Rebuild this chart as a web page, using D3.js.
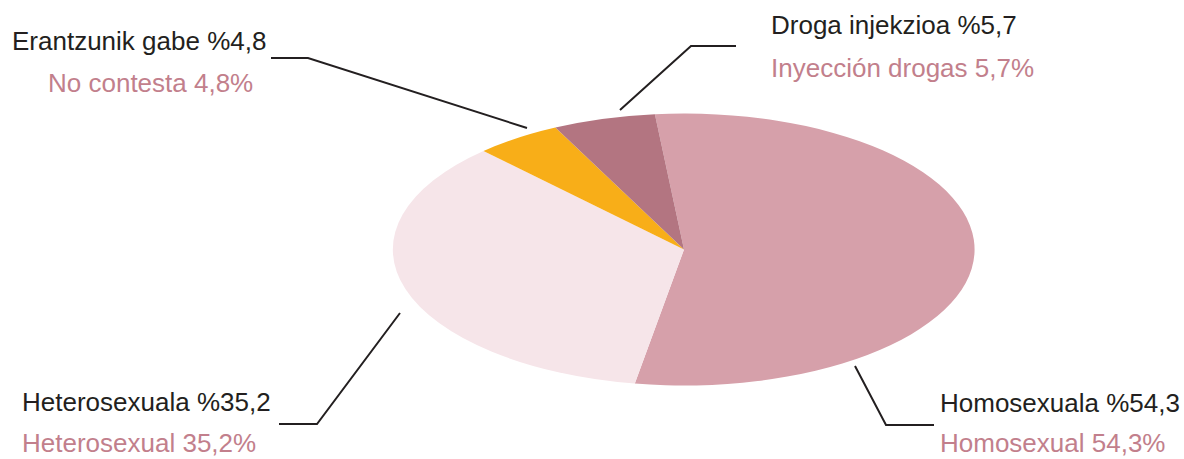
<!DOCTYPE html>
<html>
<head>
<meta charset="utf-8">
<script src="https://cdn.jsdelivr.net/npm/d3@7"></script>
<style>
  body { margin: 0; background: #fff; }
  svg text { font-family: "Liberation Sans", Arial, sans-serif; }
</style>
</head>
<body>
<div id="chart"></div>
<script>
// data
const categories = ["Homosexual", "Heterosexual", "No contesta", "Inyección drogas"];
const values = [54.3, 35.2, 4.8, 5.7];
const labelsEu = ["Homosexuala %54,3", "Heterosexuala %35,2", "Erantzunik gabe %4,8", "Droga injekzioa %5,7"];
const labelsEs = ["Homosexual 54,3%", "Heterosexual 35,2%", "No contesta 4,8%", "Inyección drogas 5,7%"];
const colours = ["#d6a0aa", "#f6e5e9", "#f8ae18", "#b37581"];

const width = 1184, height = 459;

// ellipse settings
const cx = 684, cy = 249.5, rx = 291, ry = 136;

const svg = d3.select("#chart")
    .append("svg")
    .attr("width", width)
    .attr("height", height);

const pie = d3.pie()
    .sort(null)
    .startAngle(-0.1)
    .endAngle(2 * Math.PI - 0.1)
    .value(d => d.value);

const arc = d3.arc()
    .innerRadius(0)
    .outerRadius(1);

const data = categories.map((c, i) => ({ name: c, value: values[i], colour: colours[i] }));

const g = svg.append("g")
    .attr("transform", "translate(" + cx + "," + cy + ") scale(" + rx + "," + ry + ")");

g.selectAll("path")
    .data(pie(data))
    .enter()
    .append("path")
    .attr("d", arc)
    .attr("fill", d => d.data.colour);

// leader lines + label positions (annotation layout)
const leaders = [
    { pts: [[855, 366], [886, 425], [934, 425]], x1: 940, x2: 940, y1: 412, y2: 452 },
    { pts: [[400, 313], [317, 424], [279, 424]], x1: 22, x2: 22, y1: 411, y2: 452 },
    { pts: [[527, 128], [308, 58], [271, 58]], x1: 12, x2: 48, y1: 50, y2: 92 },
    { pts: [[620, 110], [691, 46], [736, 46]], x1: 771, x2: 771, y1: 34, y2: 77 }
];

const line = d3.line();

leaders.forEach((l, i) => {
    svg.append("path")
        .attr("d", line(l.pts))
        .attr("fill", "none")
        .attr("stroke", "#231f20")
        .attr("stroke-width", 2);

    svg.append("text")
        .attr("x", l.x1)
        .attr("y", l.y1)
        .attr("font-size", "26px")
        .attr("fill", "#231f20")
        .text(labelsEu[i]);

    svg.append("text")
        .attr("x", l.x2)
        .attr("y", l.y2)
        .attr("font-size", "26px")
        .attr("fill", "#c27f8c")
        .text(labelsEs[i]);
});
</script>
</body>
</html>
